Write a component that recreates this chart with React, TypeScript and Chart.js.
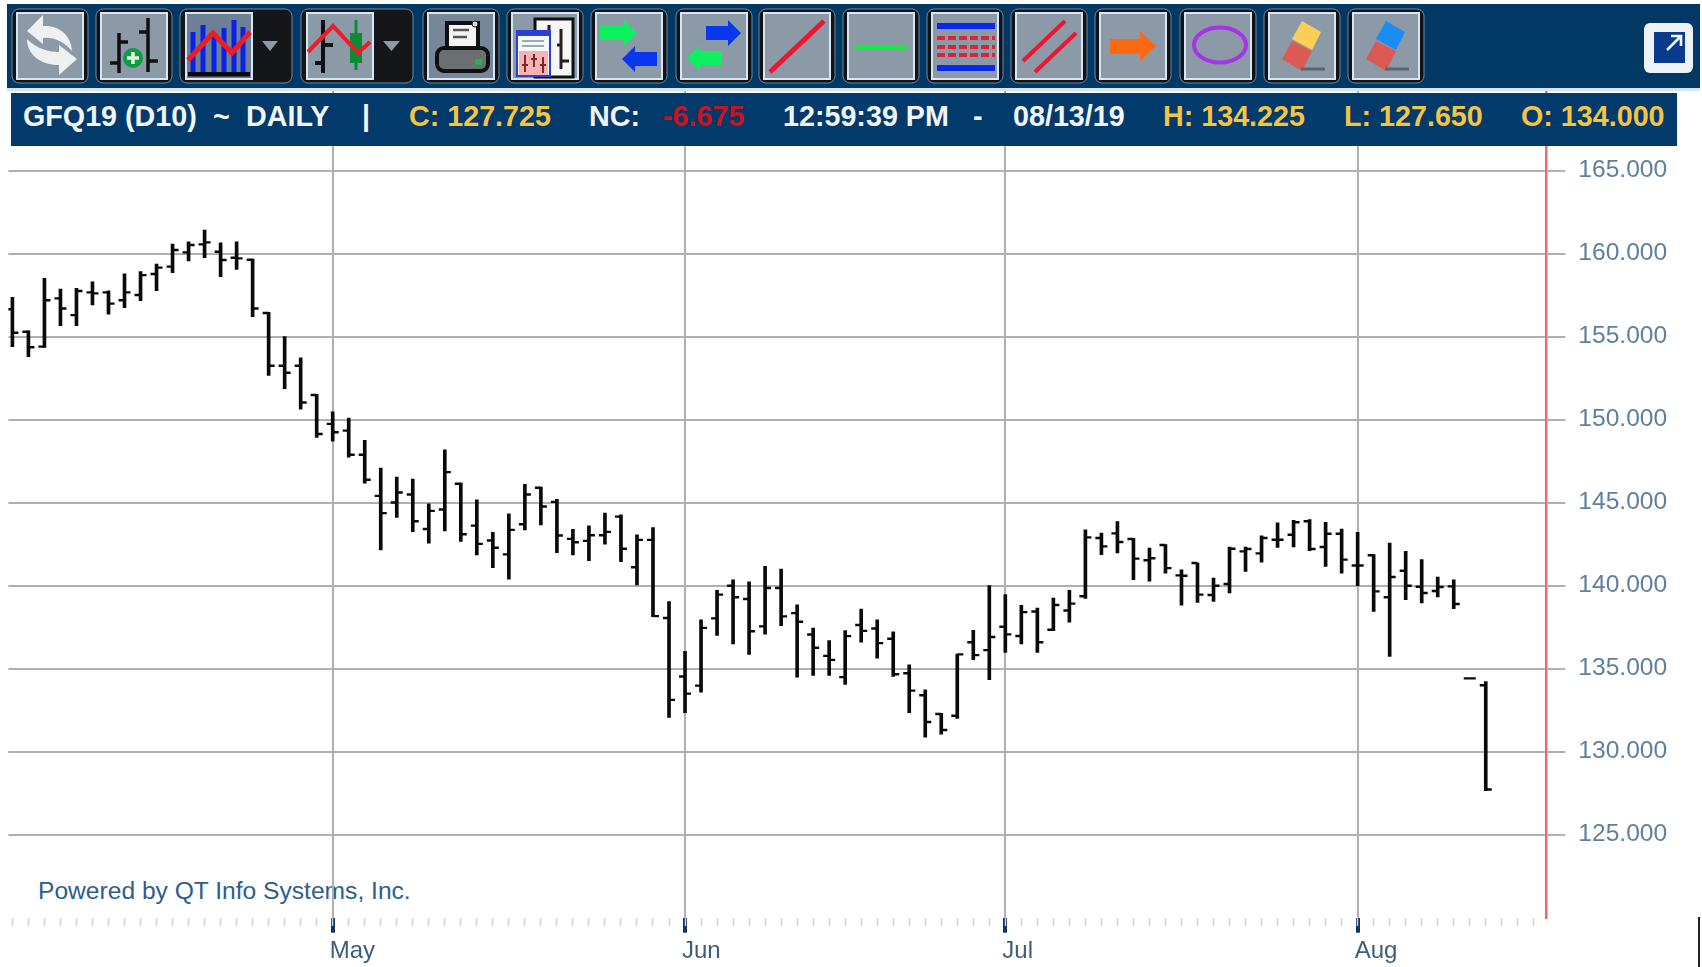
import React, { useEffect, useRef } from "react";
import { Chart, registerables } from "chart.js";

Chart.register(...registerables);

const openPrices = [
  156.65, 155.3, 154.4, 157.31, 156.3, 157.67, 157.67, 157.2, 157.51, 158.78,
  159.22, 160.08, 160.56, 160.12, 159.76, 159.64, 156.43, 153.25, 153.25, 151.49,
  149.75, 149.34, 147.89, 145.41, 145.01, 145.49, 143.42, 144.59, 146.14, 143.62,
  142.72, 141.89, 143.7, 145.9, 145.05, 142.82, 142.7, 143.04, 144.16, 141.11,
  142.76, 138.05, 134.53, 133.98, 138.03, 140.0, 139.2, 137.55, 139.86, 138.35,
  137.06, 135.77, 134.49, 137.63, 137.42, 136.8, 134.73, 133.4, 132.27, 132.17,
  136.59, 136.12, 137.53, 136.97, 138.45, 137.35, 138.51, 139.36, 142.87, 143.15,
  142.81, 141.53, 142.45, 140.62, 141.37, 139.44, 140.1, 142.07, 141.95, 142.77,
  143.07, 143.88, 142.33, 143.13, 141.22, 141.83, 139.3, 140.9, 139.94, 139.68,
  139.96, 134.42, 134.0,
];
const highPrices = [
  157.37, 155.36, 158.51, 157.87, 157.91, 158.31, 157.77, 158.78, 158.92, 159.38,
  160.58, 160.72, 161.43, 160.66, 160.72, 159.68, 156.47, 155.0, 153.73, 151.53,
  150.47, 150.1, 148.75, 147.08, 146.54, 146.42, 144.93, 148.19, 146.18, 145.17,
  143.22, 144.33, 146.1, 145.94, 145.21, 143.4, 143.6, 144.37, 144.27, 143.06,
  143.5, 139.05, 136.04, 137.95, 139.72, 140.36, 140.24, 141.17, 141.0, 138.85,
  137.44, 136.7, 137.3, 138.59, 137.95, 137.22, 135.23, 133.72, 132.31, 135.88,
  137.31, 140.0, 139.46, 138.82, 138.65, 139.26, 139.72, 143.37, 143.17, 143.86,
  142.85, 142.27, 142.47, 140.96, 141.37, 140.46, 142.33, 142.33, 143.01, 143.78,
  143.94, 143.98, 143.82, 143.41, 143.21, 141.87, 142.57, 142.07, 141.57, 140.52,
  140.36, 134.42, 134.225,
];
const lowPrices = [
  154.4, 153.8, 154.36, 155.66, 155.66, 156.91, 156.35, 156.75, 157.17, 157.77,
  158.86, 159.56, 159.76, 158.61, 159.06, 156.2, 152.67, 151.87, 150.64, 148.94,
  148.7, 147.75, 146.18, 142.15, 144.12, 143.26, 142.56, 143.3, 142.66, 141.85,
  141.09, 140.4, 143.36, 143.66, 141.99, 141.85, 141.51, 142.5, 141.45, 140.04,
  138.13, 132.07, 132.35, 133.58, 137.0, 136.5, 135.86, 137.08, 137.59, 134.49,
  134.59, 134.59, 134.06, 136.6, 135.63, 134.53, 132.35, 130.87, 131.05, 132.01,
  135.54, 134.34, 135.98, 136.49, 135.98, 137.29, 137.81, 139.24, 141.87, 141.97,
  140.36, 140.28, 140.76, 138.82, 139.0, 139.06, 139.56, 140.86, 141.41, 142.31,
  142.33, 142.11, 141.16, 140.76, 140.0, 138.45, 135.74, 139.16, 138.96, 139.32,
  138.61, 134.42, 127.65,
];
const closePrices = [
  155.24, 154.36, 157.2, 156.7, 157.75, 157.61, 156.99, 157.67, 158.71, 159.16,
  160.22, 160.52, 160.68, 159.62, 159.72, 156.7, 153.25, 152.83, 151.04, 149.14,
  149.24, 147.89, 146.38, 144.37, 145.61, 143.88, 144.51, 146.84, 143.1, 142.52,
  142.29, 143.36, 145.49, 144.77, 143.02, 142.62, 143.04, 143.24, 142.23, 142.76,
  138.17, 133.12, 133.5, 137.46, 139.46, 139.3, 137.26, 139.86, 138.15, 137.83,
  136.26, 135.53, 136.96, 137.28, 136.54, 134.67, 133.68, 131.79, 131.31, 135.86,
  135.82, 136.91, 137.07, 138.41, 136.59, 138.84, 138.92, 142.91, 142.37, 142.63,
  141.63, 141.65, 141.06, 140.6, 139.46, 140.0, 142.23, 142.21, 142.87, 142.77,
  143.82, 142.21, 143.13, 141.57, 141.22, 139.66, 140.52, 140.0, 139.56, 139.92,
  138.9, 134.42, 127.725,
];

const monthIndexes = [20, 42, 62, 84];
const monthLabels = ["May", "Jun", "Jul", "Aug"];
const priceTicks = [125, 130, 135, 140, 145, 150, 155, 160, 165];
const slotCount = 96;

const FONT = '"Liberation Sans", Arial, sans-serif';

type Seg = { text: string; left: number; color: string };
const headerSegments: Seg[] = [
  { text: "GFQ19 (D10)", left: 23, color: "#f2f5f8" },
  { text: "~", left: 213, color: "#f2f5f8" },
  { text: "DAILY", left: 246, color: "#f2f5f8" },
  { text: "|", left: 362, color: "#f2f5f8" },
  { text: "C: 127.725", left: 409, color: "#f6c445" },
  { text: "NC:", left: 589, color: "#f2f5f8" },
  { text: "-6.675", left: 663, color: "#c8141f" },
  { text: "12:59:39 PM", left: 783, color: "#f2f5f8" },
  { text: "-", left: 973, color: "#f2f5f8" },
  { text: "08/13/19", left: 1013, color: "#f2f5f8" },
  { text: "H: 134.225", left: 1163, color: "#f6c445" },
  { text: "L: 127.650", left: 1344, color: "#f6c445" },
  { text: "O: 134.000", left: 1521, color: "#f6c445" },
];

function Arrow({ x1, x2, y, color, dir }: { x1: number; x2: number; y: number; color: string; dir: "l" | "r" }) {
  const head = 13;
  const pts =
    dir === "r"
      ? [[x1, y - 7], [x2 - head, y - 7], [x2 - head, y - 13], [x2, y], [x2 - head, y + 13], [x2 - head, y + 7], [x1, y + 7]]
      : [[x2, y - 7], [x1 + head, y - 7], [x1 + head, y - 13], [x1, y], [x1 + head, y + 13], [x1 + head, y + 7], [x2, y + 7]];
  return <polygon points={pts.map((p) => p.join(",")).join(" ")} fill={color} />;
}

function Eraser({ top }: { top: string }) {
  return (
    <g>
      <polygon points="33,8 52,19 43,37 23,26" fill={top} />
      <polygon points="23,28 43,38 33,58 13,46" fill="#dc5a54" />
      <rect x="32" y="54.5" width="24" height="3" fill="#5c6670" />
    </g>
  );
}

function Btn({ x, w = 66, dark = false, children }: { x: number; w?: number; dark?: boolean; children?: React.ReactNode }) {
  return (
    <g>
      <rect x={x - 5} y={9} width={w + 10} height={74} rx={7} fill="#111316" stroke="#6f8aa6" strokeWidth={1} />
      <g transform={`translate(${x},13)`}>
        <rect x={0} y={0} width={66} height={66} fill={dark ? "#76879a" : "#8c99a6"} stroke="#d6e6f2" strokeWidth={2} />
        {children}
      </g>
    </g>
  );
}

function Toolbar() {
  return (
    <svg width={1702} height={88} style={{ position: "absolute", left: 0, top: 0, zIndex: 3 }}>
      <rect x={7} y={4} width={1693} height={84} fill="#013864" />
      <Btn x={17}>
        <path d="M26 2 L10 18 L26 31 L26 25 C 36 24 46 28 55 38 C 54 22 42 12 26 13 Z" fill="#eef0f2" />
        <path d="M42 62 L60 46 L42 32 L42 39 C 32 39 20 36 10 26 C 10 42 24 52 42 52 Z" fill="#eef0f2" />
      </Btn>
      <Btn x={101}>
        <g stroke="#101010" strokeWidth={3.5} fill="none">
          <path d="M18 20V60M9 50H18M18 29H27M47 5V59M38 19H47M47 48H57" />
        </g>
        <circle cx={32} cy={45} r={10} fill="#0d9b45" />
        <path d="M32 39V51M26 45H38" stroke="#e4f7da" strokeWidth={3.5} />
      </Btn>
      <g>
        <rect x={180} y={9} width={112} height={74} rx={7} fill="#15161a" stroke="#6f8aa6" />
        <polygon points="262,41 278,41 270,51" fill="#8f9aa5" />
      </g>
      <g transform="translate(186,13)">
        <rect width={66} height={66} fill="#6d8096" stroke="#d6e6f2" strokeWidth={2} />
        <g fill="#0a22e6">
          <rect x={4.5} y={19} width={5} height={41} />
          <rect x={14.5} y={12} width={5} height={48} />
          <rect x={25.5} y={20} width={5} height={40} />
          <rect x={35.5} y={15} width={5} height={45} />
          <rect x={45.5} y={7} width={5} height={53} />
          <rect x={54.5} y={14} width={5} height={46} />
        </g>
        <rect x={2} y={59} width={62} height={4.5} fill="#0a0a0a" />
        <polyline points="2,47 27,20 46,40 64,19" fill="none" stroke="#ee1c25" strokeWidth={5} />
      </g>
      <g>
        <rect x={301} y={9} width={112} height={74} rx={7} fill="#15161a" stroke="#6f8aa6" />
        <polygon points="383,41 400,41 391.5,51" fill="#8f9aa5" />
      </g>
      <g transform="translate(307,13)">
        <rect width={66} height={66} fill="#8c99a6" stroke="#d6e6f2" strokeWidth={2} />
        <path d="M16 7V60M8 50H16M16 32H26" stroke="#101010" strokeWidth={4} fill="none" />
        <rect x={43} y={20} width={12} height={30} fill="#0d8a35" />
        <path d="M49 7V57" stroke="#0d8a35" strokeWidth={3} />
        <polyline points="1,39 26,13 51,40 63,29" fill="none" stroke="#ee1c25" strokeWidth={4} />
      </g>
      <Btn x={428} dark>
        <rect x={19} y={10} width={31} height={27} fill="#f4f4f4" stroke="#101010" strokeWidth={4} />
        <path d="M25 17H41M25 24H39" stroke="#555" strokeWidth={2.5} />
        <circle cx={47} cy={11} r={3} fill="#ddd" stroke="#101010" />
        <rect x={9} y={35} width={51} height={23} rx={7} fill="#6a6f72" stroke="#101010" strokeWidth={4} />
        <rect x={47} y={46} width={7} height={6} fill="#27b04c" />
      </Btn>
      <Btn x={512}>
        <rect x={23} y={6} width={38} height={58} fill="#f6f6f6" stroke="#101010" strokeWidth={3} />
        <path d="M37 12V25M49 16V56M49 48H57M45 32H49" stroke="#222" strokeWidth={3} fill="none" />
        <rect x={5} y={18} width={33} height={45} fill="#f4f6fa" stroke="#2a3fd8" strokeWidth={2} />
        <rect x={5} y={18} width={33} height={5} fill="#2a3fd8" />
        <path d="M10 28H32M10 33H32" stroke="#9aa" strokeWidth={2} />
        <rect x={7} y={38} width={29} height={24} fill="#f8b2b2" />
        <path d="M13 42V59M22 41V54M31 44V60M10 52H16M19 46H25M28 52H34" stroke="#7a2a2a" strokeWidth={2} />
      </Btn>
      <Btn x={596}>
        <Arrow x1={4} x2={41} y={20} color="#0df060" dir="r" />
        <Arrow x1={26} x2={61} y={46} color="#0a36ee" dir="l" />
      </Btn>
      <Btn x={681}>
        <Arrow x1={25} x2={60} y={20} color="#0a36ee" dir="r" />
        <Arrow x1={6} x2={41} y={45} color="#0df060" dir="l" />
      </Btn>
      <Btn x={764}>
        <line x1={6} y1={59} x2={60} y2={8} stroke="#ee1530" strokeWidth={5} />
      </Btn>
      <Btn x={848}>
        <line x1={7} y1={34} x2={59} y2={34} stroke="#12ee3c" strokeWidth={4} />
      </Btn>
      <Btn x={932}>
        <rect x={5} y={10} width={58} height={6} fill="#0a28e8" />
        <rect x={5} y={52} width={58} height={6} fill="#0a28e8" />
        <path d="M5 25H63M5 34H63M5 42H63" stroke="#dc2434" strokeWidth={4} strokeDasharray="8 3" />
      </Btn>
      <Btn x={1016}>
        <line x1={7} y1={48} x2={49} y2={8} stroke="#ee1530" strokeWidth={4} />
        <line x1={19} y1={59} x2={60} y2={20} stroke="#ee1530" strokeWidth={4} />
      </Btn>
      <Btn x={1100}>
        <polygon points="10,26 40,26 40,18 56,33 40,48 40,41 10,41" fill="#fb6a12" />
      </Btn>
      <Btn x={1185}>
        <ellipse cx={35} cy={32} rx={26} ry={17.5} fill="none" stroke="#a832e8" strokeWidth={4} />
      </Btn>
      <Btn x={1269}>
        <Eraser top="#fbcf55" />
      </Btn>
      <Btn x={1353}>
        <Eraser top="#1b8cf2" />
      </Btn>
      <rect x={1644} y={23} width={49} height={50} rx={6} fill="#eef2f6" />
      <rect x={1654} y={32} width={31} height={31} fill="#0a3a8c" />
      <path d="M1667 50 L1680 37 M1671 36 H1681 V46" stroke="#f2f6fa" strokeWidth={2.6} fill="none" />
    </svg>
  );
}

export default function App() {
  const canvasRef = useRef<HTMLCanvasElement | null>(null);

  useEffect(() => {
    const canvas = canvasRef.current;
    if (!canvas) return;
    const at = (series: number[]) => series.map((y, x) => ({ x, y }));
    const xMin = -0.25;
    const xMax = 95.78;
    const chart = new Chart(canvas, {
      type: "bar",
      data: {
        datasets: [
          {
            type: "bar",
            label: "High-Low",
            data: highPrices.map((h, i) => ({ x: i, y: [lowPrices[i], h] })),
            backgroundColor: "#0a0a0a",
            barThickness: 3,
            order: 3,
          },
          {
            type: "line",
            label: "Open",
            data: at(openPrices),
            showLine: false,
            pointStyle: "dash",
            pointRotation: 180,
            pointRadius: 6,
            pointBorderWidth: 2.4,
            pointBorderColor: "#0a0a0a",
            order: 2,
          },
          {
            type: "line",
            label: "Close",
            data: at(closePrices),
            showLine: false,
            pointStyle: "dash",
            pointRadius: 6,
            pointBorderWidth: 2.4,
            pointBorderColor: "#0a0a0a",
            order: 1,
          },
        ],
      } as any,
      options: {
        animation: false,
        responsive: false,
        layout: { padding: { left: 7, top: 87.7, right: 0, bottom: 0 } },
        plugins: { legend: { display: false }, tooltip: { enabled: false } },
        scales: {
          x: {
            type: "linear",
            position: "bottom",
            offset: false,
            min: xMin,
            max: xMax,
            afterFit: (s: any) => {
              s.height = 49.3;
            },
            afterBuildTicks: (s: any) => {
              s.ticks = monthIndexes.map((value) => ({ value }));
            },
            grid: { offset: false, color: "#b0b0b0", lineWidth: 2, tickColor: "#0e3560", tickWidth: 4, tickLength: 15 },
            border: { display: false },
            ticks: {
              autoSkip: false,
              maxRotation: 0,
              align: "start",
              padding: 4,
              labelOffset: -3,
              color: "#3e5c7c",
              font: { family: FONT, size: 24 },
              callback: (v: any) => monthLabels[monthIndexes.indexOf(Number(v))] ?? "",
            },
          },
          xMinor: {
            type: "linear",
            position: { y: 120 },
            offset: false,
            min: xMin,
            max: xMax,
            afterFit: (s: any) => {
              s.height = 0;
            },
            afterBuildTicks: (s: any) => {
              s.ticks = Array.from({ length: slotCount }, (_, value) => ({ value }));
            },
            grid: { offset: false, drawOnChartArea: false, tickColor: "#d2d2d2", tickWidth: 1.5, tickLength: 8 },
            border: { display: false },
            ticks: { display: false, autoSkip: false },
          },
          y: {
            type: "linear",
            position: "right",
            min: 120,
            max: 170,
            afterFit: (s: any) => {
              s.width = 155.7;
            },
            afterBuildTicks: (s: any) => {
              s.ticks = priceTicks.map((value) => ({ value }));
            },
            grid: { color: "#b0b0b0", lineWidth: 2, tickColor: "#b0b0b0", tickWidth: 2, tickLength: 19 },
            border: { display: true, color: "#ef6a6e", width: 2.5 },
            ticks: {
              padding: 13,
              color: "#5f7f9e",
              font: { family: FONT, size: 24.6 },
              callback: (v: any) => Number(v).toFixed(3),
            },
          },
        },
      } as any,
    });
    return () => chart.destroy();
  }, []);

  return (
    <div style={{ position: "absolute", left: 0, top: 0, width: 1702, height: 967, overflow: "hidden", background: "#fff", fontFamily: FONT }}>
      <div style={{ position: "absolute", left: 38, top: 875, fontSize: 24.6, lineHeight: "32px", color: "#2f5d8c", whiteSpace: "nowrap", zIndex: 0 }}>
        Powered by QT Info Systems, Inc.
      </div>
      <canvas ref={canvasRef} width={1702} height={967} style={{ position: "absolute", left: 0, top: 0, display: "block", zIndex: 1 }} />
      <Toolbar />
      <div style={{ position: "absolute", left: 7, top: 88, width: 1693, height: 3, background: "#d2e6f2", zIndex: 3 }} />
      <div style={{ position: "absolute", left: 11, top: 93, width: 1666, height: 53, background: "#013a6b", zIndex: 3 }}>
        {headerSegments.map((s) => (
          <span
            key={s.text + s.left}
            style={{ position: "absolute", left: s.left - 11, top: 0, lineHeight: "47px", fontSize: 28.7, fontWeight: 700, color: s.color, whiteSpace: "nowrap" }}
          >
            {s.text}
          </span>
        ))}
      </div>
      <div style={{ position: "absolute", left: 1698, top: 917, width: 2, height: 50, background: "#222", zIndex: 3 }} />
    </div>
  );
}
